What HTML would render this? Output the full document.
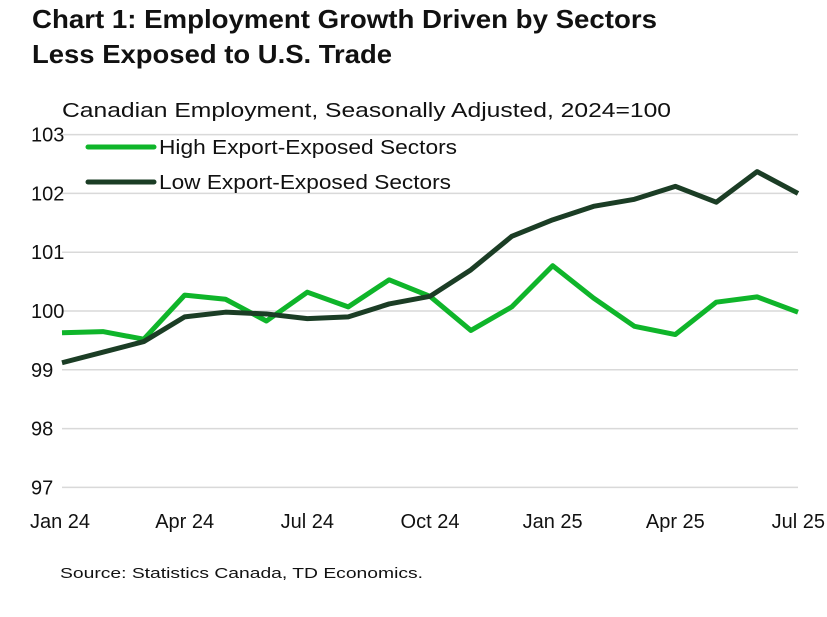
<!DOCTYPE html>
<html><head><meta charset="utf-8"><style>
body{margin:0;background:#fff;width:827px;height:617px;overflow:hidden;font-family:"Liberation Sans",sans-serif;}
svg{display:block}
</style></head><body>
<svg id="c" width="827" height="617">
<text x="32" y="28" font-size="26" font-weight="bold" fill="#111" textLength="625" lengthAdjust="spacingAndGlyphs">Chart 1: Employment Growth Driven by Sectors</text>
<text x="32" y="63" font-size="26" font-weight="bold" fill="#111" textLength="360" lengthAdjust="spacingAndGlyphs">Less Exposed to U.S. Trade</text>
<text x="62" y="117" font-size="20" fill="#111" textLength="609" lengthAdjust="spacingAndGlyphs">Canadian Employment, Seasonally Adjusted, 2024=100</text>
<text x="60" y="578" font-size="15" fill="#111" textLength="363" lengthAdjust="spacingAndGlyphs">Source: Statistics Canada, TD Economics.</text>
<g id="grid"></g><g id="series"></g>
<line x1="88" y1="147" x2="154" y2="147" stroke="#0fb52a" stroke-width="5" stroke-linecap="round"/>
<text x="159" y="154" font-size="20" fill="#111" textLength="298" lengthAdjust="spacingAndGlyphs">High Export-Exposed Sectors</text>
<line x1="88" y1="182" x2="154" y2="182" stroke="#1b3d25" stroke-width="5" stroke-linecap="round"/>
<text x="159" y="189" font-size="20" fill="#111" textLength="292" lengthAdjust="spacingAndGlyphs">Low Export-Exposed Sectors</text>
</svg>
<script>
const yTicks=[97,98,99,100,101,102,103];
const xLabels=["Jan 24","Apr 24","Jul 24","Oct 24","Jan 25","Apr 25","Jul 25"];
const highSeries=[99.63,99.65,99.52,100.27,100.2,99.83,100.32,100.07,100.53,100.25,99.67,100.07,100.77,100.22,99.74,99.6,100.15,100.24,99.98];
const lowSeries=[99.12,99.3,99.48,99.9,99.98,99.95,99.87,99.9,100.12,100.25,100.7,101.27,101.55,101.78,101.9,102.12,101.85,102.37,102.0];
const NS="http://www.w3.org/2000/svg";
const x0=62,x1=798;
const xs=i=>x0+(x1-x0)*i/18;
const ys=v=>311-(v-100)*58.8;
const g=document.getElementById('grid'),s=document.getElementById('series');
yTicks.forEach(t=>{
const l=document.createElementNS(NS,'line');


l.setAttribute('x1',x0);l.setAttribute('x2',x1);l.setAttribute('y1',ys(t));l.setAttribute('y2',ys(t));
l.setAttribute('stroke','#d9d9d9');l.setAttribute('stroke-width','1.5');g.appendChild(l);
const tx=document.createElementNS(NS,'text');


tx.setAttribute('x',31);tx.setAttribute('y',ys(t)+7);tx.setAttribute('font-size','20');tx.setAttribute('fill','#111');
tx.textContent=t;g.appendChild(tx);
});
xLabels.forEach((lab,k)=>{
const tx=document.createElementNS(NS,'text');


let x=xs(k*3),anchor='middle';
if(k==0){x=30;anchor='start';}
if(k==xLabels.length-1){x=825;anchor='end';}
tx.setAttribute('x',x);tx.setAttribute('y',528);tx.setAttribute('text-anchor',anchor);
tx.setAttribute('font-size','20');tx.setAttribute('fill','#111');tx.textContent=lab;g.appendChild(tx);
});
function line(data,color,name){
const p=document.createElementNS(NS,'polyline');


p.setAttribute('points',data.map((v,i)=>xs(i)+','+ys(v)).join(' '));
p.setAttribute('fill','none');p.setAttribute('stroke',color);p.setAttribute('stroke-width','5');
p.setAttribute('stroke-linejoin','round');s.appendChild(p);
}
line(highSeries,'#0fb52a','high-export-line');
line(lowSeries,'#1b3d25','low-export-line');
</script>
</body></html>
